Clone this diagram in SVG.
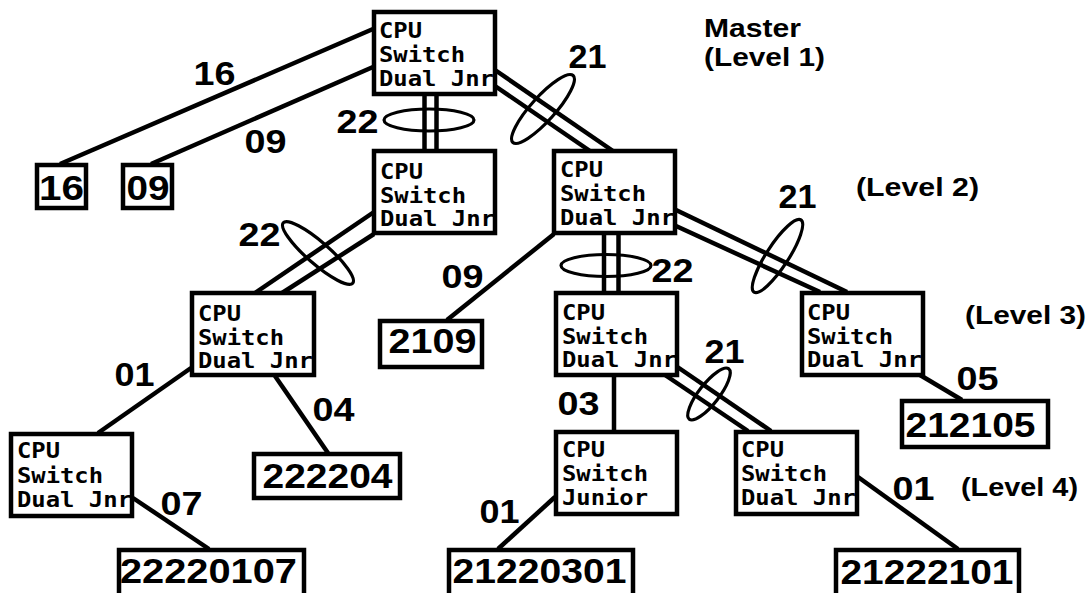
<svg xmlns="http://www.w3.org/2000/svg" width="1089" height="593" viewBox="0 0 1089 593">
<style>
.bg{fill:#fff}
.box{fill:#fff;stroke:#000;stroke-width:4.5}
.ln{stroke:#000;stroke-width:4.5;fill:none;stroke-linecap:butt}
.el{stroke:#000;stroke-width:3.2;fill:none}
.bt{font-family:"DejaVu Sans Mono","Liberation Mono",monospace;font-weight:bold;font-size:21px;fill:#000}
.num{font-family:"Liberation Sans",Arial,sans-serif;font-weight:bold;font-size:35px;fill:#000}
.lab{font-family:"Liberation Sans",Arial,sans-serif;font-weight:bold;font-size:33px;fill:#000}
.lvl{font-family:"Liberation Sans",Arial,sans-serif;font-weight:bold;font-size:26px;fill:#000}
</style>
<rect class="bg" x="0" y="0" width="1089" height="593"/>

<g id="connectors">
  <line class="ln" x1="373" y1="29" x2="60" y2="164"/>
  <line class="ln" x1="373" y1="67" x2="151" y2="164"/>
  <line class="ln" x1="424.5" y1="95" x2="424.5" y2="151"/>
  <line class="ln" x1="436.5" y1="95" x2="436.5" y2="151"/>
  <line class="ln" x1="495" y1="70" x2="613" y2="151"/>
  <line class="ln" x1="495" y1="86" x2="590" y2="151"/>
  <line class="ln" x1="374" y1="212" x2="255" y2="293"/>
  <line class="ln" x1="374" y1="234" x2="282" y2="293"/>
  <line class="ln" x1="554" y1="234" x2="447" y2="320"/>
  <line class="ln" x1="604" y1="234" x2="604" y2="292"/>
  <line class="ln" x1="618.5" y1="234" x2="618.5" y2="292"/>
  <line class="ln" x1="676" y1="210" x2="847" y2="292"/>
  <line class="ln" x1="676" y1="226" x2="820" y2="292"/>
  <line class="ln" x1="191" y1="368" x2="98" y2="433"/>
  <line class="ln" x1="275" y1="376" x2="328" y2="453"/>
  <line class="ln" x1="614" y1="376" x2="614" y2="431"/>
  <line class="ln" x1="676" y1="366" x2="771" y2="431"/>
  <line class="ln" x1="665" y1="375" x2="748" y2="431"/>
  <line class="ln" x1="920" y1="375" x2="962" y2="400"/>
  <line class="ln" x1="133" y1="498" x2="209" y2="549"/>
  <line class="ln" x1="555" y1="497" x2="498" y2="549"/>
  <line class="ln" x1="858" y1="477" x2="958" y2="549"/>
  <ellipse class="el" cx="429" cy="120" rx="45" ry="11"/>
  <ellipse class="el" cx="0" cy="0" rx="45" ry="12" transform="translate(543 109) rotate(-48)"/>
  <ellipse class="el" cx="0" cy="0" rx="46" ry="11" transform="translate(318 253) rotate(41)"/>
  <ellipse class="el" cx="606" cy="265.5" rx="45" ry="11"/>
  <ellipse class="el" cx="0" cy="0" rx="43" ry="11" transform="translate(777.5 256) rotate(-57)"/>
  <ellipse class="el" cx="0" cy="0" rx="32" ry="10" transform="translate(709 394) rotate(-52)"/>
</g>

<g id="connector-labels">
  <text class="lab" x="193.5" y="85" textLength="42" lengthAdjust="spacingAndGlyphs">16</text>
  <text class="lab" x="244.5" y="153" textLength="42" lengthAdjust="spacingAndGlyphs">09</text>
  <text class="lab" x="336.5" y="133" textLength="42" lengthAdjust="spacingAndGlyphs">22</text>
  <text class="lab" x="568.5" y="68" textLength="38" lengthAdjust="spacingAndGlyphs">21</text>
  <text class="lab" x="238.5" y="246" textLength="42" lengthAdjust="spacingAndGlyphs">22</text>
  <text class="lab" x="441.5" y="288" textLength="42" lengthAdjust="spacingAndGlyphs">09</text>
  <text class="lab" x="651.5" y="282" textLength="42" lengthAdjust="spacingAndGlyphs">22</text>
  <text class="lab" x="778.5" y="208" textLength="38" lengthAdjust="spacingAndGlyphs">21</text>
  <text class="lab" x="114.5" y="386" textLength="40" lengthAdjust="spacingAndGlyphs">01</text>
  <text class="lab" x="312.5" y="421" textLength="42" lengthAdjust="spacingAndGlyphs">04</text>
  <text class="lab" x="557.5" y="415" textLength="42" lengthAdjust="spacingAndGlyphs">03</text>
  <text class="lab" x="704.5" y="363" textLength="40" lengthAdjust="spacingAndGlyphs">21</text>
  <text class="lab" x="956.5" y="390" textLength="42" lengthAdjust="spacingAndGlyphs">05</text>
  <text class="lab" x="160.5" y="515" textLength="42" lengthAdjust="spacingAndGlyphs">07</text>
  <text class="lab" x="479.5" y="523" textLength="40" lengthAdjust="spacingAndGlyphs">01</text>
  <text class="lab" x="892.5" y="500" textLength="42" lengthAdjust="spacingAndGlyphs">01</text>
</g>

<g id="level-labels">
  <text class="lvl" x="704" y="37" textLength="97" lengthAdjust="spacingAndGlyphs">Master</text>
  <text class="lvl" x="704" y="66" textLength="121" lengthAdjust="spacingAndGlyphs">(Level 1)</text>
  <text class="lvl" x="856" y="196" textLength="123" lengthAdjust="spacingAndGlyphs">(Level 2)</text>
  <text class="lvl" x="965" y="324" textLength="121" lengthAdjust="spacingAndGlyphs">(Level 3)</text>
  <text class="lvl" x="961" y="496" textLength="117" lengthAdjust="spacingAndGlyphs">(Level 4)</text>
</g>

<g id="node-master">
  <rect class="box" x="374" y="12" width="121" height="82"/>
  <text class="bt" x="379" y="38" textLength="43" lengthAdjust="spacingAndGlyphs">CPU</text>
  <text class="bt" x="379" y="62" textLength="86" lengthAdjust="spacingAndGlyphs">Switch</text>
  <text class="bt" x="379" y="86" textLength="115" lengthAdjust="spacingAndGlyphs">Dual Jnr</text>
</g>
<g id="node-l2-left">
  <rect class="box" x="374" y="151" width="121" height="82"/>
  <text class="bt" x="380" y="179" textLength="43" lengthAdjust="spacingAndGlyphs">CPU</text>
  <text class="bt" x="380" y="203" textLength="86" lengthAdjust="spacingAndGlyphs">Switch</text>
  <text class="bt" x="380" y="226" textLength="115" lengthAdjust="spacingAndGlyphs">Dual Jnr</text>
</g>
<g id="node-l2-right">
  <rect class="box" x="554" y="151" width="121" height="82"/>
  <text class="bt" x="560" y="177" textLength="43" lengthAdjust="spacingAndGlyphs">CPU</text>
  <text class="bt" x="560" y="201" textLength="86" lengthAdjust="spacingAndGlyphs">Switch</text>
  <text class="bt" x="560" y="225" textLength="115" lengthAdjust="spacingAndGlyphs">Dual Jnr</text>
</g>
<g id="node-l3-left">
  <rect class="box" x="192" y="293" width="122" height="82"/>
  <text class="bt" x="198" y="321" textLength="43" lengthAdjust="spacingAndGlyphs">CPU</text>
  <text class="bt" x="198" y="345" textLength="86" lengthAdjust="spacingAndGlyphs">Switch</text>
  <text class="bt" x="198" y="368" textLength="115" lengthAdjust="spacingAndGlyphs">Dual Jnr</text>
</g>
<g id="node-l3-mid">
  <rect class="box" x="556" y="293" width="121" height="82"/>
  <text class="bt" x="562" y="320" textLength="43" lengthAdjust="spacingAndGlyphs">CPU</text>
  <text class="bt" x="562" y="344" textLength="86" lengthAdjust="spacingAndGlyphs">Switch</text>
  <text class="bt" x="562" y="367" textLength="115" lengthAdjust="spacingAndGlyphs">Dual Jnr</text>
</g>
<g id="node-l3-right">
  <rect class="box" x="802" y="293" width="121" height="82"/>
  <text class="bt" x="807" y="320" textLength="43" lengthAdjust="spacingAndGlyphs">CPU</text>
  <text class="bt" x="807" y="344" textLength="86" lengthAdjust="spacingAndGlyphs">Switch</text>
  <text class="bt" x="807" y="367" textLength="115" lengthAdjust="spacingAndGlyphs">Dual Jnr</text>
</g>
<g id="node-l4-left">
  <rect class="box" x="11" y="434" width="121" height="82"/>
  <text class="bt" x="17" y="458" textLength="43" lengthAdjust="spacingAndGlyphs">CPU</text>
  <text class="bt" x="17" y="483" textLength="86" lengthAdjust="spacingAndGlyphs">Switch</text>
  <text class="bt" x="17" y="507" textLength="115" lengthAdjust="spacingAndGlyphs">Dual Jnr</text>
</g>
<g id="node-junior">
  <rect class="box" x="556" y="432" width="121" height="82"/>
  <text class="bt" x="562" y="457" textLength="43" lengthAdjust="spacingAndGlyphs">CPU</text>
  <text class="bt" x="562" y="481" textLength="86" lengthAdjust="spacingAndGlyphs">Switch</text>
  <text class="bt" x="562" y="505" textLength="86" lengthAdjust="spacingAndGlyphs">Junior</text>
</g>
<g id="node-l4-right">
  <rect class="box" x="736" y="432" width="121" height="82"/>
  <text class="bt" x="741" y="457" textLength="43" lengthAdjust="spacingAndGlyphs">CPU</text>
  <text class="bt" x="741" y="481" textLength="86" lengthAdjust="spacingAndGlyphs">Switch</text>
  <text class="bt" x="741" y="505" textLength="115" lengthAdjust="spacingAndGlyphs">Dual Jnr</text>
</g>

<g id="node-16">
  <rect class="box" x="37" y="165" width="49" height="43"/>
  <text class="num" x="39" y="200" textLength="45" lengthAdjust="spacingAndGlyphs">16</text>
</g>
<g id="node-09">
  <rect class="box" x="123" y="165" width="49" height="43"/>
  <text class="num" x="126.5" y="200" textLength="43" lengthAdjust="spacingAndGlyphs">09</text>
</g>
<g id="node-2109">
  <rect class="box" x="380" y="321" width="102" height="46"/>
  <text class="num" x="388.5" y="353" textLength="88" lengthAdjust="spacingAndGlyphs">2109</text>
</g>
<g id="node-222204">
  <rect class="box" x="254" y="454" width="146" height="44"/>
  <text class="num" x="262.5" y="488" textLength="130" lengthAdjust="spacingAndGlyphs">222204</text>
</g>
<g id="node-212105">
  <rect class="box" x="902" y="401" width="146" height="46"/>
  <text class="num" x="905.5" y="437" textLength="130" lengthAdjust="spacingAndGlyphs">212105</text>
</g>
<g id="node-22220107">
  <rect class="box" x="119" y="550" width="185" height="60"/>
  <text class="num" x="120" y="583" textLength="177" lengthAdjust="spacingAndGlyphs">22220107</text>
</g>
<g id="node-21220301">
  <rect class="box" x="449" y="550" width="184" height="60"/>
  <text class="num" x="452.5" y="583" textLength="174" lengthAdjust="spacingAndGlyphs">21220301</text>
</g>
<g id="node-21222101">
  <rect class="box" x="836" y="550" width="183" height="60"/>
  <text class="num" x="840.5" y="584" textLength="173" lengthAdjust="spacingAndGlyphs">21222101</text>
</g>
</svg>
